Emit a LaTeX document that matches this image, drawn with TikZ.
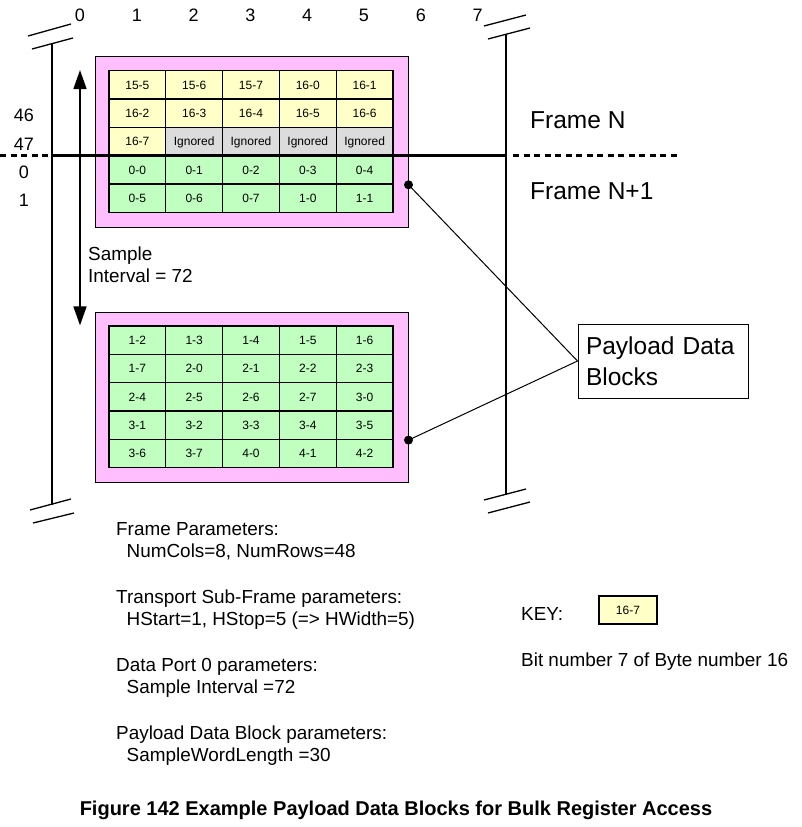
\documentclass[tikz,border=0pt]{standalone}
\usepackage{fontspec}
\setmainfont{Liberation Sans}
\usetikzlibrary{arrows.meta,positioning}
\definecolor{byteyellow}{HTML}{FFFFC8}
\definecolor{bytegreen}{HTML}{C0FFC0}
\definecolor{ignoredgray}{HTML}{DCDCDC}
\definecolor{blockpink}{HTML}{FFBFFF}
\tikzset{
  cell/.style={draw, line width=1.3pt, minimum width=56.8pt, minimum height=28.35pt, inner sep=0pt, text height=8.6pt, text depth=0pt, font=\fontsize{12}{13}\selectfont},
  block/.style={draw, line width=1pt, fill=blockpink, minimum width=313pt, inner sep=0pt},
  num/.style={inner sep=0pt, font=\fontsize{18}{20}\selectfont},
  label/.style={inner sep=0pt, anchor=base west, font=\fontsize{18.9}{21}\selectfont},
  big/.style={inner sep=0pt, anchor=base west, font=\fontsize{24.5}{31}\selectfont},
  bar/.style={line width=2.6pt},
  brk/.style={line width=1.3pt},
  frameline/.style={line width=3pt},
  framedash/.style={line width=3pt, dash pattern=on 6pt off 4.5pt}
}
\begin{document}
\begin{tikzpicture}[x=1pt,y=-1pt]
  \useasboundingbox (0,0) rectangle (802,827);
  % Column and row numbers
  \foreach \c in {0,...,7}
    \node[num] (col\c) at (80+56.8*\c, 15) {\c};
  \node[num] (row46) at (24,115) {46};
  \node[num] (row47) at (24,144) {47};
  \node[num] (row0) at (24,172) {0};
  \node[num] (row1) at (24,200) {1};
  % Payload blocks
  \node[block, minimum height=171pt] (blocktop) at (251.5,141.5) {};
  \node[block, minimum height=170pt] (blockbot) at (251.5,397) {};
  \foreach \lab [count=\i from 0] in {15-5,15-6,15-7,16-0,16-1,16-2,16-3,16-4,16-5,16-6,16-7,Ignored,Ignored,Ignored,Ignored,0-0,0-1,0-2,0-3,0-4,0-5,0-6,0-7,1-0,1-1} {
    \pgfmathtruncatemacro{\r}{div(\i,5)}
    \pgfmathtruncatemacro{\c}{mod(\i,5)}
    \ifnum\i<11 \def\cellfill{byteyellow}\else\ifnum\i<15 \def\cellfill{ignoredgray}\else\def\cellfill{bytegreen}\fi\fi
    \node[cell, fill=\cellfill] (top-\r-\c) at (137.4+56.8*\c, 84.9+28.35*\r) {\lab};
  }
  \foreach \lab [count=\i from 0] in {1-2,1-3,1-4,1-5,1-6,1-7,2-0,2-1,2-2,2-3,2-4,2-5,2-6,2-7,3-0,3-1,3-2,3-3,3-4,3-5,3-6,3-7,4-0,4-1,4-2} {
    \pgfmathtruncatemacro{\r}{div(\i,5)}
    \pgfmathtruncatemacro{\c}{mod(\i,5)}
    \node[cell, fill=bytegreen] (bot-\r-\c) at (137.4+56.8*\c, 340.2+28.35*\r) {\lab};
  }
  % Frame edges with break marks
  \coordinate (ltop) at (52,43.5);
  \coordinate (lbot) at (52,505);
  \coordinate (rtop) at (506,35);
  \coordinate (rbot) at (506,495);
  \draw[bar] (ltop) -- (lbot);
  \draw[bar] (rtop) -- (rbot);
  \draw[brk] (28,36) -- (71,24) (32,49) -- (73,38);
  \draw[brk] (30,510) -- (71,499) (33,523) -- (74,513);
  \draw[brk] (484,26) -- (526,15) (488,39) -- (530,28);
  \draw[brk] (484,500) -- (526,489) (488,513) -- (530,502);
  % Frame boundary
  \coordinate (fleft) at (0,155.3);
  \coordinate (fright) at (680,155.3);
  \draw[framedash] (fleft) -- (ltop |- fleft);
  \draw[frameline] (ltop |- fleft) -- (rtop |- fleft);
  \draw[framedash] ([xshift=7pt]rtop |- fleft) -- (fright);
  \node[big] (framen) at (530,128) {Frame N};
  \node[big] (framen1) at (530,199) {Frame N+1};
  % Sample interval arrow
  \coordinate (sitop) at (col0 |- top-0-0.north);
  \coordinate (sibot) at (col0 |- bot-0-0.north);
  \draw[line width=1.6pt, {Triangle[width=13pt,length=19pt]}-{Triangle[width=13pt,length=19pt]}] (sitop) -- (sibot);
  \node[label] (sample) at (88,260.5) {Sample};
  \node[label] (interval) at (88,282.5) {Interval = 72};
  % Callout
  \node[draw, line width=1pt, minimum width=170pt, minimum height=74pt, inner xsep=8pt, inner ysep=4pt, align=left, text width=154pt, font=\fontsize{24.5}{31}\selectfont] (callout) at (663,361) {Payload Data\\Blocks};
  \coordinate (dottop) at (blocktop.east |- top-3-4.south);
  \coordinate (dotbot) at (blockbot.east |- bot-3-4.south);
  \fill (dottop) circle (4.5pt);
  \fill (dotbot) circle (4.5pt);
  \draw[line width=1pt] (dottop) -- (callout.west);
  \draw[line width=1pt] (dotbot) -- (callout.west);
  % Parameters
  \node[label] (fp) at (116,535) {Frame Parameters:};
  \node[label] (fpv) at (126.5,557) {NumCols=8, NumRows=48};
  \node[label] (tp) at (116,603) {Transport Sub-Frame parameters:};
  \node[label] (tpv) at (126.5,625) {HStart=1, HStop=5 (=> HWidth=5)};
  \node[label] (dp) at (116,671) {Data Port 0 parameters:};
  \node[label] (dpv) at (126.5,693) {Sample Interval =72};
  \node[label] (pp) at (116,739) {Payload Data Block parameters:};
  \node[label] (ppv) at (126.5,761.5) {SampleWordLength =30};
  % Key
  \node[label] (key) at (521,620) {KEY:};
  \node[cell, fill=byteyellow, minimum width=58pt, minimum height=28pt] (keycell) at (628,610) {16-7};
  \node[label] (keytext) at (521,666) {Bit number 7 of Byte number 16};
  % Caption
  \node[inner sep=0pt, anchor=base, font=\bfseries\fontsize{20}{22}\selectfont] (caption) at (396,815) {Figure 142 Example Payload Data Blocks for Bulk Register Access};
\end{tikzpicture}
\end{document}
